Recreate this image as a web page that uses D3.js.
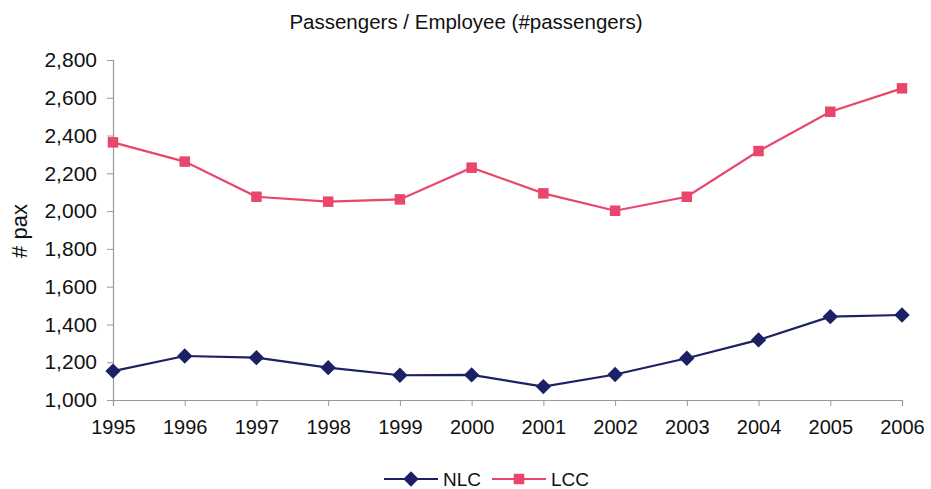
<!DOCTYPE html>
<html><head><meta charset="utf-8">
<script src="https://cdn.jsdelivr.net/npm/d3@7"></script>
<style>body{margin:0;background:#fff}text{font-family:"Liberation Sans",Arial,sans-serif}</style>
</head><body><svg id="c" width="931" height="489"></svg>
<script>
const years = [1995,1996,1997,1998,1999,2000,2001,2002,2003,2004,2005,2006];
const nlc = [1153,1233,1224,1171,1131,1133,1071,1135,1221,1318,1441,1450];
const lcc = [2364,2262,2076,2050,2062,2230,2094,2002,2076,2318,2526,2650];
const yTicks = [1000,1200,1400,1600,1800,2000,2200,2400,2600,2800];
const series = [{name:"NLC", values:nlc, color:"#1c2064", shape:"diamond"},
                {name:"LCC", values:lcc, color:"#e8466c", shape:"square"}];

const svg = d3.select("#c");
const x = d3.scalePoint().domain(years).range([113,902]);
const y = d3.scaleLinear().domain([1000,2800]).range([400,60]);

const yAxis = svg.append("g").attr("transform","translate(113,0)")
  .call(d3.axisLeft(y).tickValues(yTicks).tickSize(6).tickPadding(10).tickFormat(d3.format(",")));
const xAxis = svg.append("g").attr("transform","translate(0,400)")
  .call(d3.axisBottom(x).tickSize(6).tickPadding(14).tickFormat(d=>String(d)));
[yAxis,xAxis].forEach(g=>{
  g.select(".domain").attr("stroke","#999").attr("stroke-width",1.2);
  g.selectAll(".tick line").attr("stroke","#999");
  g.selectAll("text").attr("fill","#111").style("font-family","'Liberation Sans',Arial,sans-serif");
});
yAxis.selectAll("text").attr("font-size",21);
xAxis.selectAll("text").attr("font-size",20);

const sym = {diamond:d3.symbol().type(d3.symbolDiamond2).size(150), square:d3.symbol().type(d3.symbolSquare).size(110)};
series.forEach(s=>{
  const line = d3.line().x((d,i)=>x(years[i])).y(d=>y(d));
  svg.append("path").datum(s.values).attr("d",line).attr("fill","none").attr("stroke",s.color).attr("stroke-width",2.2);
  svg.append("g").selectAll("path").data(s.values).join("path")
    .attr("d",sym[s.shape]).attr("fill",s.color)
    .attr("transform",(d,i)=>`translate(${x(years[i])},${y(d)})`);
});

svg.append("text").attr("x",466).attr("y",29).attr("text-anchor","middle").attr("font-size",20.5).attr("fill","#111")
  .text("Passengers / Employee (#passengers)");
svg.append("text").attr("transform","translate(27,231) rotate(-90)").attr("text-anchor","middle").attr("font-size",22).attr("fill","#111")
  .text("# pax");

// legend
const leg = [{s:series[0], x0:384},{s:series[1], x0:492}];
leg.forEach(l=>{
  const g = svg.append("g").attr("transform",`translate(${l.x0},479)`);
  g.append("line").attr("x1",0).attr("x2",54).attr("stroke",l.s.color).attr("stroke-width",2.2);
  g.append("path").attr("d",sym[l.s.shape]).attr("fill",l.s.color).attr("transform","translate(27,0)");
  g.append("text").attr("x",59).attr("y",0).attr("dy","0.35em").attr("font-size",19).attr("fill","#111").text(l.s.name);
});
</script></body></html>
